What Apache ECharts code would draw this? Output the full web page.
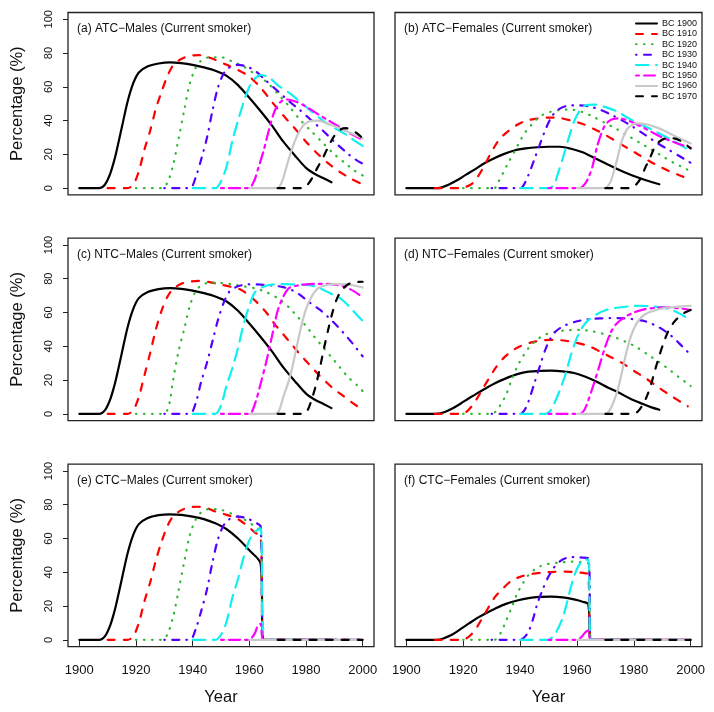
<!DOCTYPE html>
<html><head><meta charset="utf-8">
<script src="https://cdn.jsdelivr.net/npm/echarts@6/dist/echarts.min.js"></script>
<style>html,body{margin:0;padding:0;background:#fff}#c{width:714px;height:712px}</style>
</head><body><div id="c"></div>
<script>
// ---- data (year, percentage) ----
const cohorts = ['BC 1900','BC 1910','BC 1920','BC 1930','BC 1940','BC 1950','BC 1960','BC 1970'];
const panelTitles = ['(a) ATC\u2212Males (Current smoker)','(b) ATC\u2212Females (Current smoker)',
  '(c) NTC\u2212Males (Current smoker)','(d) NTC\u2212Females (Current smoker)',
  '(e) CTC\u2212Males (Current smoker)','(f) CTC\u2212Females (Current smoker)'];
const xTicks = [1900,1920,1940,1960,1980,2000];
const yTicks = [0,20,40,60,80,100];

// (a) ATC - Males
const a1900 = [[1900,0],[1907,0],[1908,0.5],[1909,2],[1910,5],[1911,9],[1912,14.5],[1913,21],[1915,36],[1917,51],[1919,62],[1921,68.5],[1924,72],[1928,73.8],[1932,74.5],[1936,74],[1940,73],[1944,71.5],[1948,69.5],[1952,66.5],[1956,61],[1960,53.5],[1964,45.5],[1968,37],[1972,27.5],[1976,19.5],[1980,12],[1983,8.5],[1986,6],[1989,3.5]];
const a1910 = [[1910,0],[1917,0],[1919,2],[1921,10],[1923,23],[1925,34],[1927,47],[1929,57],[1931,66],[1933,72.5],[1936,76.5],[1939,78.3],[1942,78.8],[1945,77.8],[1948,76],[1952,73],[1956,70],[1960,66],[1964,59.5],[1968,51],[1972,43],[1976,35.5],[1980,27.5],[1984,20.5],[1988,14.5],[1992,9.5],[1996,5.5],[1999,3]];
const a1920 = [[1920,0],[1929,0],[1931,3],[1933,13],[1935,29],[1937,46],[1939,62],[1941,71],[1943,75.5],[1946,77.5],[1950,77.5],[1954,75],[1958,72],[1962,67.5],[1966,63],[1970,56],[1974,48.5],[1978,40.3],[1982,33.5],[1986,26.7],[1990,20],[1994,14.6],[1997,10.5],[2000,7.5]];
const a1930 = [[1930,0],[1939,0],[1941,6],[1943,17],[1945,29.5],[1947,46],[1949,60],[1951,68],[1953,71.5],[1956,73],[1959,72],[1962,69.5],[1966,63.5],[1970,57.5],[1974,51.5],[1978,46],[1982,40],[1986,34],[1990,27.5],[1994,21.5],[1997,17.5],[2000,14.5]];
const a1940 = [[1940,0],[1948,0],[1950,4],[1952,13],[1954,28],[1956,40],[1958,51],[1960,60],[1962,65],[1964,67],[1967,65.5],[1970,61],[1974,56.5],[1978,51],[1982,45.3],[1986,40],[1990,35.7],[1994,31.8],[1997,28.3],[2000,25]];
const a1950 = [[1950,0],[1960,0],[1961,2],[1962,5.5],[1963,11],[1965,22],[1967,35],[1969,46],[1971,51],[1973,52.5],[1976,51.5],[1980,48.3],[1984,44],[1988,40],[1992,36],[1996,32],[2000,28.5]];
const a1960 = [[1960,0],[1970,0],[1971,2],[1972,6],[1973,12],[1975,23],[1977,31.5],[1979,37],[1981,39.5],[1984,40],[1988,38],[1992,35.4],[1996,32.5],[2000,29.5]];
const a1970 = [[1970,0],[1979,0],[1980,1],[1981,3],[1982,5.5],[1984,12],[1986,18],[1988,25],[1990,31],[1992,34.5],[1994,35.5],[1996,34.5],[1998,32.5],[2000,29.5]];

// (b) ATC - Females
const b1900 = [[1900,0],[1911,0],[1913,0.8],[1915,2.2],[1918,4.8],[1921,8],[1924,11],[1927,14.3],[1930,17],[1934,20],[1938,22.3],[1942,23.5],[1946,24.2],[1950,24.5],[1954,24.5],[1958,23.3],[1962,21.2],[1966,18],[1970,14.8],[1974,11.5],[1978,8.5],[1982,6],[1986,3.8],[1989,2.3]];
const b1910 = [[1910,0],[1919,0],[1921,0.8],[1923,2.5],[1925,6.5],[1927,12],[1929,18.5],[1931,24.5],[1933,29.5],[1936,34],[1939,37.5],[1942,39.8],[1946,41.2],[1950,41.8],[1954,41.5],[1958,40],[1962,38],[1966,35],[1970,31.5],[1974,27.5],[1978,23.5],[1982,19.5],[1986,15.5],[1990,12],[1994,9],[1997,7],[1999,5.5]];
const b1920 = [[1920,0],[1931,0],[1932,2.5],[1934,9],[1936,15.5],[1938,21.5],[1940,28],[1942,33.5],[1944,37.5],[1946,41],[1948,43.5],[1951,45.3],[1954,46.3],[1958,46.5],[1962,45],[1966,42],[1970,38.5],[1974,35],[1978,31],[1982,27],[1986,23],[1990,19],[1994,15],[1997,12.5],[2000,10]];
const b1930 = [[1930,0],[1940,0],[1941,1],[1943,8],[1945,17],[1947,26],[1949,35],[1951,42],[1953,46],[1956,48.5],[1960,49],[1964,48.5],[1968,46.5],[1972,43.5],[1976,40],[1980,36],[1984,31.5],[1988,27],[1992,23],[1996,19],[2000,15]];
const b1940 = [[1940,0],[1950,0],[1952,2],[1953,7],[1955,17.5],[1957,29],[1959,39.5],[1961,46],[1963,49],[1966,49.5],[1970,48],[1974,45.5],[1978,41.5],[1982,38],[1986,35],[1990,31.5],[1994,28],[1997,25],[2000,22]];
const b1950 = [[1950,0],[1961,0],[1962,1],[1963,3],[1964,6],[1965.5,13],[1967,24],[1968.5,32],[1970,37.5],[1972,40.5],[1975,41.3],[1978,40],[1982,37],[1986,33.5],[1990,30],[1994,27.3],[1997,25.5],[2000,24]];
const b1960 = [[1960,0],[1970,0],[1971,1.5],[1972,4.5],[1973,10],[1974,16],[1975,23],[1976,29],[1977.5,34.5],[1979,37],[1981,38.3],[1984,38],[1988,36],[1992,33],[1996,29.5],[2000,26.5]];
const b1970 = [[1970,0],[1979,0],[1980,1],[1981,2.5],[1982.5,6],[1984,12],[1985.5,17],[1987,23],[1989,27.5],[1991.5,29.5],[1994,29.5],[1997,27.5],[2000,23.5]];

// (c) NTC - Males
const c1900 = [[1900,0],[1907,0],[1908,0.5],[1909,2],[1910,5],[1911,9],[1912,14.5],[1913,21],[1915,36],[1917,51],[1919,62],[1921,68.5],[1924,72],[1928,73.8],[1932,74.4],[1936,74],[1940,73],[1944,71.5],[1948,69.5],[1952,66.5],[1956,61],[1960,53.5],[1964,45.5],[1968,37],[1972,27.5],[1976,19.5],[1980,12],[1983,8.5],[1986,6],[1989,3.4]];
const c1910 = [[1910,0],[1917,0],[1919,2],[1921,10],[1923,23],[1925,36],[1927,50],[1929,61],[1931,69],[1933,73.8],[1936,77],[1939,78.3],[1942,78.7],[1946,78],[1950,76.5],[1954,75],[1957,73.5],[1960,70],[1963,65.5],[1966,60],[1969,53],[1972,47],[1975,41],[1978,35],[1981,29.5],[1984,24],[1987,19],[1990,14.5],[1993,10.8],[1996,7],[1999,3.5]];
const c1920 = [[1920,0],[1929,0],[1931,2],[1932,8],[1933,19],[1935,37],[1937,50],[1939,64],[1941,72.5],[1943,76],[1946,77.7],[1950,77.5],[1954,76.7],[1958,75.5],[1962,74.3],[1966,72],[1970,68.5],[1974,63],[1977,57.5],[1980,52],[1983,45.5],[1986,39.5],[1989,33.5],[1992,27.5],[1995,21.5],[1998,17],[2000,13.5]];
const c1930 = [[1930,0],[1939,0],[1941,6],[1943,19],[1945,30],[1947,43],[1949,56],[1951,66],[1953,72.5],[1956,75.5],[1960,76.7],[1964,76.5],[1968,76],[1972,75],[1976,72.5],[1979,69],[1982,65],[1985,61.5],[1988,57],[1991,52],[1994,46.5],[1997,40.5],[2000,34]];
const c1940 = [[1940,0],[1948,0],[1950,5],[1952,17],[1954,27],[1956,39],[1958,53],[1960,64],[1962,72],[1965,75.3],[1968,76.5],[1972,76.8],[1976,76.6],[1980,76.3],[1983,75.5],[1986,73.5],[1989,71],[1992,68.5],[1995,64],[1998,58.5],[2000,55]];
const c1950 = [[1950,0],[1960,0],[1962,6],[1964,18],[1966,31],[1968,46],[1970,61],[1972,69.5],[1974,74.5],[1977,76],[1980,76.7],[1984,77],[1988,77],[1991,76.3],[1994,75],[1997,72.5],[2000,69]];
const c1960 = [[1960,0],[1969,0],[1970.5,2],[1972,10],[1974,20],[1975.5,30],[1977,42],[1978.5,53],[1980,62],[1982,69.5],[1984,74],[1986.5,76],[1990,76.8],[1994,76.7],[1997,76],[2000,74.8]];
const c1970 = [[1970,0],[1979,0],[1980.5,2],[1982,8.5],[1983.5,17],[1985,28],[1986.5,40],[1988,51],[1989.5,61],[1991,68.5],[1992.5,73],[1994.5,76.3],[1997,78],[2000,78.2]];

// (d) NTC - Females
const d1900 = [[1900,0],[1910,0],[1913,0.8],[1916,3],[1919,6],[1922,9.2],[1925,12.3],[1928,15.2],[1931,18],[1935,21],[1939,23.5],[1943,25],[1947,25.5],[1951,25.6],[1955,25.2],[1959,24.2],[1963,22],[1967,19],[1971,15.5],[1975,12.3],[1979,8.8],[1983,6],[1986,4],[1989,2.4]];
const d1910 = [[1910,0],[1919,0],[1921,1],[1923,4.5],[1925,9.5],[1927,15.2],[1929,20.8],[1931.5,27.5],[1934,32.7],[1937,37],[1940,40],[1944,42.3],[1948,43.5],[1952,43.8],[1956,43.3],[1960,42],[1964,40.2],[1968,37],[1972,33.5],[1976,30],[1980,25.5],[1984,21.3],[1988,16.5],[1991,13],[1994,9.7],[1997,6.5],[1999,4.5]];
const d1920 = [[1920,0],[1930,0],[1931.5,1.5],[1933,5],[1935,11],[1937,20],[1939,28],[1941,34],[1943,39],[1946,44],[1949,47],[1953,48.8],[1957,49.5],[1961,49.7],[1965,49],[1969,47.5],[1973,45.5],[1977,42.8],[1981,39.5],[1985,35],[1989,30.5],[1993,25.5],[1996,21.5],[2000,16.5]];
const d1930 = [[1930,0],[1940,0],[1941.5,2],[1943,7.5],[1945,18],[1947,28.5],[1949,38.5],[1951,45.5],[1953,49.5],[1956,52.5],[1960,54.8],[1964,56],[1968,56.5],[1972,56.7],[1976,56.6],[1980,56],[1984,54.8],[1988,52],[1991,49],[1994,45],[1997,40],[2000,35]];
const d1940 = [[1940,0],[1949,0],[1950.5,1.5],[1952,6],[1954,14],[1956,23.5],[1958,35.5],[1960,45],[1962,51.5],[1964,55.5],[1967,59],[1970,61.3],[1974,62.8],[1978,63.6],[1982,64],[1986,63.7],[1990,63],[1993,61.8],[1996,59.5],[1998,57.5],[2000,55]];
const d1950 = [[1950,0],[1961,0],[1962.5,2],[1964,8],[1966,18],[1968,29],[1970,40],[1972,48.5],[1974,53.5],[1977,57.5],[1980,60],[1984,62],[1988,62.8],[1992,63],[1996,62.5],[2000,61.5]];
const d1960 = [[1960,0],[1970,0],[1971.5,2],[1973,7.5],[1974.5,15],[1976,26],[1977.5,37],[1979,46],[1980.5,52],[1982,56],[1984,59],[1987,61],[1991,62.7],[1995,63.3],[2000,64]];
const d1970 = [[1970,0],[1980,0],[1981.5,1.5],[1983,5],[1984.5,10],[1986,17],[1987.5,26],[1989,34.5],[1990.5,42],[1992,48.5],[1994,54],[1996,57.5],[1998,60],[2000,61.5]];

// (e) CTC - Males
const e1900 = [[1900,0],[1907,0],[1908,0.5],[1909,2],[1910,5],[1911,9],[1912,14.5],[1913,21],[1915,36],[1917,51],[1919,62],[1921,68.5],[1924,72],[1928,73.8],[1932,74.3],[1936,74],[1940,73],[1944,71.5],[1948,69],[1952,65.5],[1956,60],[1960,53],[1964,45],[1965,0],[1989,0]];
const e1910 = [[1910,0],[1917,0],[1919,2],[1921,10],[1923,23],[1925,34],[1927,47],[1929,58],[1931,67],[1933,73],[1936,76.8],[1939,78.5],[1942,78.8],[1945,78],[1948,76],[1952,74],[1956,71.5],[1960,66.5],[1962,63.5],[1964,61],[1965,0],[1999,0]];
const e1920 = [[1920,0],[1929,0],[1931,3],[1933,13],[1935,29],[1937,46],[1939,62],[1941,71],[1943,75.5],[1946,77.5],[1950,77],[1954,74.5],[1958,71.5],[1962,67],[1964,64],[1965,0],[2000,0]];
const e1930 = [[1930,0],[1939,0],[1941,6],[1943,17],[1945,29.5],[1947,46],[1949,60],[1951,68],[1953,71.5],[1956,73],[1959,72],[1962,69.5],[1964,67],[1965,0],[2000,0]];
const e1940 = [[1940,0],[1948,0],[1950,3],[1952,11],[1954,25],[1956,36],[1958,49],[1960,59],[1962,64],[1964,66],[1965,0],[2000,0]];
const e1950 = [[1950,0],[1960,0],[1961,1.5],[1962,4],[1963,8.5],[1964,9.5],[1965,0],[2000,0]];
const e1960 = [[1960,0],[2000,0]];
const e1970 = [[1970,0],[2000,0]];

// (f) CTC - Females
const f1900 = [[1900,0],[1911,0],[1913,0.8],[1916,3],[1919,6.3],[1922,9.7],[1925,13],[1928,15.8],[1931,18.3],[1935,21.3],[1939,23.3],[1943,24.7],[1947,25.4],[1951,25.6],[1955,25.2],[1959,24],[1962,22.6],[1964,21],[1965,0],[1989,0]];
const f1910 = [[1910,0],[1919,0],[1921,0.8],[1923,3.5],[1925,8],[1927,13.8],[1929,19.5],[1931,25],[1934,30.5],[1937,35],[1940,37.3],[1944,39],[1948,39.8],[1952,40.3],[1956,40.4],[1960,40],[1963,39.4],[1964,39],[1965,0],[1999,0]];
const f1920 = [[1920,0],[1931,0],[1932,1.5],[1933.5,5],[1935,11],[1937,19],[1939,27.5],[1941,33.5],[1943,38.5],[1945,41.5],[1947,43.5],[1950,45],[1954,45.8],[1958,46.3],[1961,46],[1964,45.3],[1965,0],[2000,0]];
const f1930 = [[1930,0],[1940,0],[1941.5,1.5],[1943,5],[1944.5,12],[1946,21],[1948,30],[1950,37.5],[1952,43],[1954,46.5],[1956,48.3],[1958.5,49],[1961,48.8],[1964,48.3],[1965,0],[2000,0]];
const f1940 = [[1940,0],[1950,0],[1951.5,2],[1953,5.5],[1955,13],[1956.5,22],[1958,32],[1959.5,40],[1961,45],[1962.5,47.3],[1964,47.5],[1965,0],[2000,0]];
const f1950 = [[1950,0],[1960,0],[1961.5,1.5],[1963,4.5],[1964,5.5],[1965,0],[2000,0]];
const f1960 = [[1960,0],[2000,0]];
const f1970 = [[1970,0],[2000,0]];

const panelData = [
  [a1900,a1910,a1920,a1930,a1940,a1950,a1960,a1970],
  [b1900,b1910,b1920,b1930,b1940,b1950,b1960,b1970],
  [c1900,c1910,c1920,c1930,c1940,c1950,c1960,c1970],
  [d1900,d1910,d1920,d1930,d1940,d1950,d1960,d1970],
  [e1900,e1910,e1920,e1930,e1940,e1950,e1960,e1970],
  [f1900,f1910,f1920,f1930,f1940,f1950,f1960,f1970]
];

// ---- styles ----
const colors = ['#000000','#FF0000','#2DB82D','#5500FF','#11F0F0','#FF00FF','#C8C8C8','#000000'];
const dashes = ['solid',[7,9],[0.6,7.4],[0.6,7.4,7,7],[12.5,7.5],[3,5,11,5],'solid',[7,9]];
const FONT = 'Liberation Sans, Arial, Helvetica, sans-serif';

const gLeft = [68, 395], gWidth = [306, 307];
const gTop = [12.5, 238.2, 464.2], gHeight = 182.4;

const grids = [], xAxes = [], yAxes = [], series = [], titles = [];
for (let p = 0; p < 6; p++) {
  const col = p % 2, row = Math.floor(p / 2);
  grids.push({left: gLeft[col], top: gTop[row], width: gWidth[col], height: gHeight,
    show: true, borderColor: '#222', borderWidth: 1.3, backgroundColor: 'transparent', containLabel: false});
  const bottom = row === 2;
  xAxes.push({type: 'value', gridIndex: p, min: 1896, max: 2004,
    axisLine: {show: false}, splitLine: {show: false},
    axisTick: {show: bottom, inside: false, length: 6, lineStyle: {color: '#222', width: 1}, customValues: xTicks},
    axisLabel: {show: bottom, margin: 17, fontSize: 13, color: '#111', fontFamily: FONT, customValues: xTicks,
      formatter: v => String(v)},
    name: bottom ? 'Year' : '', nameLocation: 'middle', nameGap: 42,
    nameTextStyle: {fontSize: 16.5, color: '#111', fontFamily: FONT}});
  const left = col === 0;
  yAxes.push({type: 'value', gridIndex: p, min: -4, max: 104,
    axisLine: {show: false}, splitLine: {show: false},
    axisTick: {show: left, inside: false, length: 5, lineStyle: {color: '#222', width: 1}, customValues: yTicks},
    axisLabel: {show: left, rotate: 90, margin: 14, fontSize: 11, color: '#111', fontFamily: FONT, customValues: yTicks,
      formatter: v => String(v)},
    name: left ? 'Percentage (%)' : '', nameLocation: 'middle', nameGap: 42, nameRotate: 90,
    nameTextStyle: {fontSize: 16.5, color: '#111', fontFamily: FONT}});
  titles.push({text: panelTitles[p], left: gLeft[col] + 9, top: gTop[row] + 10.5, padding: 0,
    textStyle: {fontSize: 12, fontWeight: 'normal', color: '#111', fontFamily: FONT, lineHeight: 12}});
  for (let k = 0; k < 8; k++) {
    series.push({type: 'line', name: cohorts[k], xAxisIndex: p, yAxisIndex: p,
      data: panelData[p][k], symbol: 'none', smooth: 0.3, silent: true, animation: false,
      lineStyle: {color: colors[k], width: 2.2, type: dashes[k], cap: 'round', join: 'round'},
      itemStyle: {color: colors[k]}});
  }
}

const chart = echarts.init(document.getElementById('c'), null, {renderer: 'canvas'});
chart.setOption({
  animation: false,
  backgroundColor: '#ffffff',
  title: titles,
  grid: grids, xAxis: xAxes, yAxis: yAxes, series: series,
  legend: {data: cohorts, orient: 'vertical', left: 635, top: 19, itemWidth: 21, itemHeight: 10, itemGap: 1.4,
    padding: 0, selectedMode: false,
    itemStyle: {opacity: 0, color: 'transparent', borderWidth: 0},
    textStyle: {fontSize: 9, color: '#111', fontFamily: FONT}}
});
</script></body></html>
